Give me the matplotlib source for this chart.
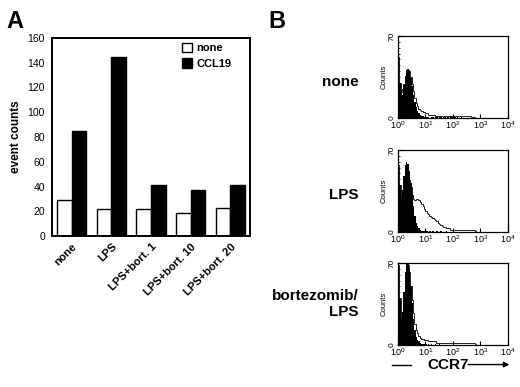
import numpy as np
import matplotlib

matplotlib.use("Agg")
import matplotlib.pyplot as plt

plt.rcParams["font.family"] = ["Liberation Sans", "DejaVu Sans"]

# panel A: event counts
groups = ["none", "LPS", "LPS+bort. 1", "LPS+bort. 10", "LPS+bort. 20"]
none_counts = [29, 22, 22, 19, 23]
ccl19_counts = [85, 145, 41, 37, 41]
yticks_a = [0, 20, 40, 60, 80, 100, 120, 140, 160]

# panel B: CCR7 histograms, bins of 0.05 decade from 10^0 to 10^3
row_labels = ["none", "LPS", "bortezomib/\nLPS"]
none_fill = [52, 30, 24, 20, 28, 36, 41, 42, 40, 34, 27, 20, 14, 9, 6, 4, 3, 2, 2, 1,
             1, 1, 1, 0, 1, 1, 0, 1, 1, 0, 1, 1, 0, 1, 1, 0, 1, 0, 1, 1,
             0, 1, 0, 1, 0, 0, 1, 0, 0, 0, 0, 0, 0, 0, 0, 0, 0, 0, 0, 0]
none_open = [52, 30, 25, 22, 29, 36, 40, 41, 40, 35, 29, 23, 17, 13, 10, 8, 7, 6, 5, 5,
             4, 4, 3, 3, 3, 3, 3, 2, 2, 2, 2, 2, 2, 2, 2, 2, 2, 2, 2, 2,
             2, 2, 2, 2, 2, 2, 2, 2, 2, 2, 2, 2, 2, 1, 1, 1, 0, 0, 0, 0]
lps_fill = [57, 40, 30, 36, 48, 57, 60, 58, 52, 42, 32, 22, 14, 8, 5, 3, 2, 1, 1, 1,
            1, 1, 0, 1, 0, 1, 0, 0, 1, 0, 0, 1, 0, 0, 0, 1, 0, 0, 0, 0,
            0, 0, 0, 0, 0, 0, 0, 0, 0, 0, 0, 0, 0, 0, 0, 0, 0, 0, 0, 0]
lps_open = [57, 40, 30, 34, 42, 48, 50, 48, 44, 38, 32, 28, 27, 28, 28, 27, 26, 24, 22, 20,
            18, 16, 15, 14, 13, 12, 11, 10, 9, 8, 7, 6, 5, 4, 4, 3, 3, 3, 2, 2,
            2, 2, 2, 2, 2, 2, 2, 2, 2, 2, 2, 2, 2, 2, 2, 2, 1, 0, 0, 0]
bort_fill = [68, 40, 23, 28, 45, 62, 70, 70, 64, 50, 36, 22, 13, 7, 4, 3, 2, 1, 1, 1,
             1, 0, 1, 0, 1, 0, 0, 1, 0, 0, 1, 0, 0, 0, 0, 0, 0, 0, 0, 0,
             0, 0, 0, 0, 0, 0, 0, 0, 0, 0, 0, 0, 0, 0, 0, 0, 0, 0, 0, 0]
bort_open = [68, 40, 24, 28, 44, 60, 68, 68, 62, 50, 38, 27, 18, 13, 10, 8, 6, 5, 5, 4,
             4, 4, 3, 3, 3, 3, 3, 3, 2, 2, 2, 2, 2, 2, 2, 2, 2, 2, 2, 2,
             2, 2, 2, 2, 2, 2, 2, 2, 2, 2, 2, 2, 2, 2, 2, 2, 1, 0, 0, 0]
hist_fill = [none_fill, lps_fill, bort_fill]
hist_open = [none_open, lps_open, bort_open]
decade_ticks = [1, 10, 100, 1000, 10000]

fig = plt.figure(figsize=(5.2, 3.87), dpi=100)

# ---- panel A
ax = fig.add_axes([0.1, 0.390, 0.381, 0.512])
x = np.arange(len(groups))
w = 0.37
ax.bar(x - w / 2, none_counts, w, color="white", edgecolor="black", lw=1.0, label="none")
ax.bar(x + w / 2, ccl19_counts, w, color="black", edgecolor="black", lw=1.0, label="CCL19")
ax.set_xlim(-0.5, len(groups) - 0.5)
ax.set_ylim(0, 160)
ax.set_yticks(yticks_a)
ax.tick_params(axis="y", length=0, labelsize=7.5, pad=5)
ax.set_xticks(x)
ax.set_xticklabels(groups, rotation=45, ha="right", rotation_mode="anchor",
                   fontsize=8, fontweight="bold")
ax.tick_params(axis="x", length=0, pad=4)
for s in ax.spines.values():
    s.set_linewidth(1.4)
ax.set_ylabel("event counts", fontsize=8.5, fontweight="bold", labelpad=4)
ax.legend(loc="upper left", bbox_to_anchor=(0.655, 0.975), frameon=False,
          prop={"weight": "bold", "size": 8}, borderaxespad=0, borderpad=0,
          handlelength=0.9, handleheight=0.9, handletextpad=0.4, labelspacing=0.45)

fig.text(0.013, 0.945, "A", fontsize=17, fontweight="bold", va="center")
fig.text(0.517, 0.945, "B", fontsize=17, fontweight="bold", va="center")

# ---- panel B
edges = 10 ** np.arange(0, 3.001, 0.05)
bottoms = [0.695, 0.4005, 0.1085]
label_y = [0.788, 0.495, 0.215]
for i in range(3):
    hx = fig.add_axes([0.765, bottoms[i], 0.2115, 0.212])
    hx.stairs(hist_open[i], edges, color="black", lw=0.6)
    hx.stairs(hist_fill[i], edges, fill=True, color="black")
    hx.set_xscale("log")
    hx.set_xlim(1, 10000)
    hx.set_ylim(0, 70)
    hx.set_xticks(decade_ticks)
    hx.set_yticks([0, 70])
    hx.set_yticks(np.arange(0, 71, 5), minor=True)
    hx.tick_params(axis="y", which="major", length=3, labelsize=6, pad=1.5, direction="in")
    hx.tick_params(axis="y", which="minor", length=1.5, direction="in")
    hx.tick_params(axis="x", which="major", length=3, labelsize=6.5, pad=0.8, direction="in")
    hx.tick_params(axis="x", which="minor", length=1.5, direction="in")
    for lab in hx.get_yticklabels():
        lab.set_rotation(90)
        lab.set_va("center")
    hx.set_ylabel("Counts", fontsize=5.5, labelpad=1)
    for s in hx.spines.values():
        s.set_linewidth(0.9)
    fig.text(0.69, label_y[i], row_labels[i], fontsize=11, fontweight="bold",
             ha="right", va="center", linespacing=1.15)

yc = 0.058
fig.text(0.861, yc, "CCR7", fontsize=11, fontweight="bold", ha="center", va="center")
fig.add_artist(plt.Line2D([0.754, 0.79], [yc, yc], color="black", lw=1.0))
fig.add_artist(matplotlib.patches.FancyArrowPatch((0.895, yc), (0.985, yc),
                                                  arrowstyle="-|>", mutation_scale=8,
                                                  lw=1.0, color="black"))

fig.savefig("out.png", dpi=100)
